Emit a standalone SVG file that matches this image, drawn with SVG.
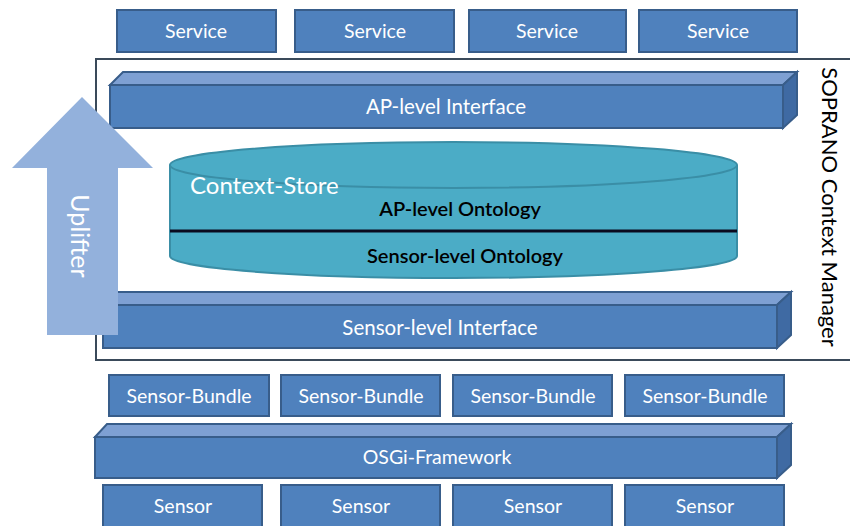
<svg xmlns="http://www.w3.org/2000/svg" width="850" height="526" viewBox="0 0 850 526">
<style>
.box{fill:#4f81bd;stroke:#385d8a;stroke-width:2}
.top{fill:#7ea0d3;stroke:#385d8a;stroke-width:2}
.side{fill:#3f6aa3;stroke:#385d8a;stroke-width:2}
.lbl{font-family:Lato,"Open Sans",sans-serif;font-size:19.5px;fill:#ffffff;text-anchor:middle}
.big{font-size:20.5px}
.dark{font-family:Lato,"Open Sans",sans-serif;font-size:20px;fill:#000000;text-anchor:middle;font-weight:600}
</style>
<rect width="850" height="526" fill="#ffffff"/>
<g id="frame">
<path d="M850 59 H96 V360 H850" fill="none" stroke="#3a4a5a" stroke-width="2"/>
<text x="0" y="0" transform="translate(822,207) rotate(90)" font-family="Lato,'Open Sans',sans-serif" font-size="22" fill="#000" text-anchor="middle">SOPRANO Context Manager</text>
</g>
<g id="service1"><rect class="box" x="117" y="10" width="159" height="42"/><text class="lbl" x="196" y="38">Service</text></g>
<g id="service2"><rect class="box" x="295" y="10" width="159" height="42"/><text class="lbl" x="375" y="38">Service</text></g>
<g id="service3"><rect class="box" x="469" y="10" width="157" height="42"/><text class="lbl" x="547" y="38">Service</text></g>
<g id="service4"><rect class="box" x="639" y="10" width="158" height="42"/><text class="lbl" x="718" y="38">Service</text></g>
<g id="ap-interface">
<polygon class="top" points="110,85 123,72 797,72 783,85"/>
<polygon class="side" points="783,85 797,72 797,115 783,128"/>
<rect class="box" x="110" y="85" width="673" height="43"/>
<text class="lbl big" x="446" y="114">AP-level Interface</text>
</g>
<g id="context-store">
<path d="M170 165 V256 A283.5 22 0 0 0 737 256 V165" fill="#4bacc6" stroke="#3a8ea6" stroke-width="2"/>
<ellipse cx="453.5" cy="165" rx="283.5" ry="23" fill="#4bacc6" stroke="#3a8ea6" stroke-width="2"/>
<line x1="170" y1="231" x2="737" y2="231" stroke="#0a0a1e" stroke-width="3"/>
<text x="190" y="194" font-family="Lato,'Open Sans',sans-serif" font-size="24" fill="#ffffff">Context-Store</text>
<text class="dark" x="460" y="216">AP-level Ontology</text>
<text class="dark" x="465" y="263">Sensor-level Ontology</text>
</g>
<g id="sensor-interface">
<polygon class="top" points="103,305 116,292 791,292 777,305"/>
<polygon class="side" points="777,305 791,292 791,335 777,348"/>
<rect class="box" x="103" y="305" width="674" height="43"/>
<text class="lbl big" x="440" y="335">Sensor-level Interface</text>
</g>
<g id="uplifter">
<polygon points="82,97 153,168 118,168 118,335 47,335 47,168 12,168" fill="#93b1dc"/>
<text x="0" y="0" transform="translate(71,236) rotate(90)" font-family="Lato,'Open Sans',sans-serif" font-size="25" fill="#ffffff" text-anchor="middle">Uplifter</text>
</g>
<g id="bundle1"><rect class="box" x="109" y="375" width="160" height="41"/><text class="lbl" x="189" y="403">Sensor-Bundle</text></g>
<g id="bundle2"><rect class="box" x="281" y="375" width="159" height="41"/><text class="lbl" x="361" y="403">Sensor-Bundle</text></g>
<g id="bundle3"><rect class="box" x="453" y="375" width="159" height="41"/><text class="lbl" x="533" y="403">Sensor-Bundle</text></g>
<g id="bundle4"><rect class="box" x="625" y="375" width="159" height="41"/><text class="lbl" x="705" y="403">Sensor-Bundle</text></g>
<g id="osgi">
<polygon class="top" points="95,437 107,424 791,424 777,437"/>
<polygon class="side" points="777,437 791,424 791,465 777,478"/>
<rect class="box" x="95" y="437" width="682" height="41"/>
<text class="lbl" x="437" y="464">OSGi-Framework</text>
</g>
<g id="sensor1"><rect class="box" x="103" y="485" width="159" height="42"/><text class="lbl" x="183" y="513">Sensor</text></g>
<g id="sensor2"><rect class="box" x="281" y="485" width="159" height="42"/><text class="lbl" x="361" y="513">Sensor</text></g>
<g id="sensor3"><rect class="box" x="453" y="485" width="159" height="42"/><text class="lbl" x="533" y="513">Sensor</text></g>
<g id="sensor4"><rect class="box" x="625" y="485" width="159" height="42"/><text class="lbl" x="705" y="513">Sensor</text></g>
<g id="connectors"/>
</svg>
